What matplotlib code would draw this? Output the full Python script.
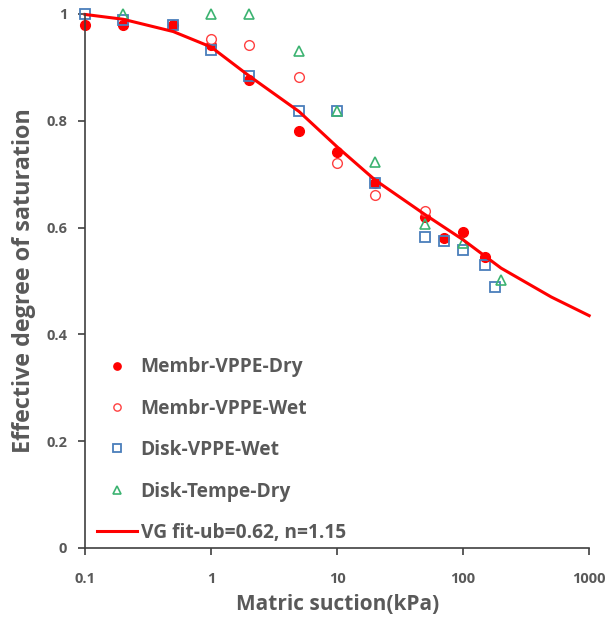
import numpy as np
import matplotlib.pyplot as plt
from matplotlib.ticker import FixedLocator, FuncFormatter

# data
x_membr_dry = [0.1, 0.2, 0.5, 1, 2, 5, 10, 20, 50, 70, 100, 150]
y_membr_dry = [0.979, 0.979, 0.980, 0.942, 0.876, 0.781, 0.742, 0.683, 0.620, 0.580, 0.592, 0.545]

x_membr_wet = [1, 2, 5, 10, 20, 50]
y_membr_wet = [0.953, 0.942, 0.881, 0.721, 0.661, 0.631]

x_disk_wet = [0.1, 0.2, 0.5, 1, 2, 5, 10, 20, 50, 70, 100, 150, 180]
y_disk_wet = [1.0, 0.989, 0.980, 0.933, 0.884, 0.818, 0.818, 0.683, 0.583, 0.575, 0.557, 0.529, 0.489]

x_tempe_dry = [0.2, 1, 2, 5, 10, 20, 50, 100, 200]
y_tempe_dry = [1.0, 1.0, 1.0, 0.931, 0.818, 0.723, 0.607, 0.571, 0.502]

# fitted curve
x_fit = [0.1, 0.2, 0.5, 1, 2, 5, 10, 20, 50, 100, 200, 500, 1000]
y_fit = [0.999, 0.990, 0.967, 0.938, 0.884, 0.817, 0.751, 0.689, 0.624, 0.577, 0.524, 0.470, 0.435]

grey = '#595959'
plt.rcParams['font.family'] = ['Open Sans', 'DejaVu Sans']

fig = plt.figure(figsize=(6.08, 6.21), dpi=100)
ax = fig.add_axes([0.14, 0.1176, 0.829, 0.86])

ax.plot(x_membr_dry, y_membr_dry, 'o', color='red', ms=7, clip_on=False, label='Membr-VPPE-Dry')
ax.plot(x_membr_wet, y_membr_wet, 'o', mfc='white', mec='#ff4040', mew=1.0, ms=7, clip_on=False, label='Membr-VPPE-Wet')
ax.plot(x_disk_wet, y_disk_wet, 's', mfc='none', mec='#4a7ebb', mew=1.3, ms=7, clip_on=False, label='Disk-VPPE-Wet')
ax.plot(x_tempe_dry, y_tempe_dry, '^', mfc='none', mec='#3cb371', mew=1.2, ms=7, clip_on=False, label='Disk-Tempe-Dry')
ax.plot(x_fit, y_fit, '-', color='red', lw=2.2, clip_on=False, label='VG fit-ub=0.62, n=1.15')

ax.set_xscale('log')
ax.set_xlim(0.1, 1000)
ax.set_ylim(0, 1)
ax.xaxis.set_major_locator(FixedLocator([0.1, 1, 10, 100, 1000]))
ax.xaxis.set_minor_locator(FixedLocator([]))
ax.xaxis.set_major_formatter(FuncFormatter(lambda v, _: f'{v:g}'))
ax.set_yticks([0, 0.2, 0.4, 0.6, 0.8, 1])
ax.yaxis.set_major_formatter(FuncFormatter(lambda v, _: f'{v:g}'))

for s in ['top', 'right']:
    ax.spines[s].set_visible(False)
for s in ['left', 'bottom']:
    ax.spines[s].set_color('#404040')
    ax.spines[s].set_linewidth(1.2)

ax.tick_params(axis='both', direction='out', length=5, width=1.2, color='#404040',
               labelsize=10.5, labelcolor=grey, pad=8)
ax.tick_params(axis='x', pad=12)
for lab in ax.get_xticklabels() + ax.get_yticklabels():
    lab.set_fontweight('bold')

ax.set_xlabel('Matric suction(kPa)', fontsize=15, fontweight='bold', color=grey, labelpad=6)
ax.set_ylabel('Effective degree of saturation', fontsize=16.8, fontweight='bold', color=grey, labelpad=7)

leg = ax.legend(loc='lower left', bbox_to_anchor=(-0.004, -0.016), frameon=False,
                prop={'size': 13.8, 'weight': 'bold'}, labelspacing=1.12, markerscale=0.75,
                handlelength=2.1, handletextpad=0.2, borderpad=0.2)
for t in leg.get_texts():
    t.set_color(grey)

fig.savefig('out.png', dpi=100)
